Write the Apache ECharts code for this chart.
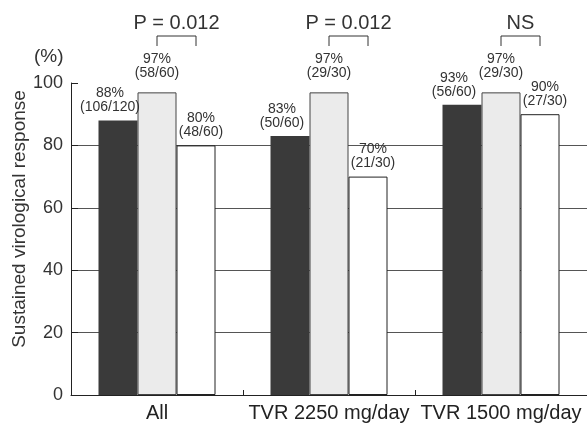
<!DOCTYPE html>
<html>
<head>
<meta charset="utf-8">
<script src="https://cdn.jsdelivr.net/npm/echarts@6/dist/echarts.min.js"></script>
<style>
  html, body { margin: 0; padding: 0; background: #fff; }
  #main { width: 587px; height: 427px; }
</style>
</head>
<body>
<div id="main"></div>
<script>
var categories = ['All', 'TVR 2250 mg/day', 'TVR 1500 mg/day'];
var darkValues = [88, 83, 93];
var lightValues = [97, 97, 97];
var whiteValues = [80, 70, 90];
var darkCounts = ['106/120', '50/60', '56/60'];
var lightCounts = ['58/60', '29/30', '29/30'];
var whiteCounts = ['48/60', '21/30', '27/30'];
var pLabels = ['P = 0.012', 'P = 0.012', 'NS'];
var yTicks = [0, 20, 40, 60, 80, 100];

var FONT = "'Liberation Sans', Arial, sans-serif";
var BAR_W = 39;

var myChart = echarts.init(document.getElementById('main'));

function barLabel(counts, dist, dx) {
  return {
    show: true,
    position: 'top',
    distance: dist,
    offset: [dx, 0],
    fontFamily: FONT,
    fontSize: 14,
    lineHeight: 14,
    color: '#333',
    formatter: function (p) {
      return p.value + '%\n(' + counts[p.dataIndex] + ')';
    }
  };
}

var option = {
  animation: false,
  grid: { left: 71, right: 0, top: 83, bottom: 32 },
  xAxis: {
    type: 'category',
    data: categories,
    axisLine: { lineStyle: { color: '#222', width: 1 } },
    axisTick: { show: true, inside: true, length: 5, interval: 0, lineStyle: { color: '#222' } },
    axisLabel: { interval: 0, hideOverlap: false, fontFamily: FONT, fontSize: 20, color: '#222', margin: 8 }
  },
  yAxis: {
    type: 'value',
    min: yTicks[0],
    max: yTicks[yTicks.length - 1],
    interval: yTicks[1] - yTicks[0],
    axisLine: { show: true, lineStyle: { color: '#222', width: 1 } },
    axisTick: { show: true, inside: true, length: 7, lineStyle: { color: '#222' } },
    axisLabel: { fontFamily: FONT, fontSize: 18, color: '#333', margin: 8 },
    splitLine: { show: true, showMaxLine: false, lineStyle: { color: '#555', width: 1 } }
  },
  series: [{
    name: 'dark',
    type: 'bar',
    barWidth: BAR_W,
    barGap: 0,
    itemStyle: { color: '#3a3a3a' },
    label: barLabel(darkCounts, 6, -8),
    data: darkValues
  }, {
    name: 'light',
    type: 'bar',
    barWidth: BAR_W,
    barGap: 0,
    itemStyle: { color: '#ebebeb', borderColor: '#444', borderWidth: 1 },
    label: barLabel(lightCounts, 12, 0),
    data: lightValues
  }, {
    name: 'white',
    type: 'bar',
    barWidth: BAR_W,
    barGap: 0,
    itemStyle: { color: '#fff', borderColor: '#222', borderWidth: 1 },
    label: barLabel(whiteCounts, 6, 5),
    data: whiteValues
  }]
};

myChart.setOption(option);

// brackets between the light and white bars, plus the labels on top
var graphics = [{
  type: 'text',
  left: 34, top: 47,
  style: { text: '(%)', font: '19px ' + FONT, fill: '#333' }
}, {
  type: 'text',
  x: 20, y: 219,
  rotation: Math.PI / 2,
  style: {
    text: 'Sustained virological response',
    font: '19px ' + FONT, fill: '#333',
    align: 'center', verticalAlign: 'middle'
  }
}];

categories.forEach(function (c, i) {
  var cx = myChart.convertToPixel({ xAxisIndex: 0 }, c);
  var x1 = cx, x2 = cx + BAR_W;
  graphics.push({
    type: 'polyline',
    shape: { points: [[x1, 46], [x1, 36], [x2, 36], [x2, 46]] },
    style: { stroke: '#333', lineWidth: 1, fill: null }
  });
  graphics.push({
    type: 'text',
    x: (x1 + x2) / 2, y: 23,
    style: {
      text: pLabels[i], font: '20px ' + FONT, fill: '#333',
      align: 'center', verticalAlign: 'middle'
    }
  });
});

myChart.setOption({ graphic: graphics });
</script>
</body>
</html>
